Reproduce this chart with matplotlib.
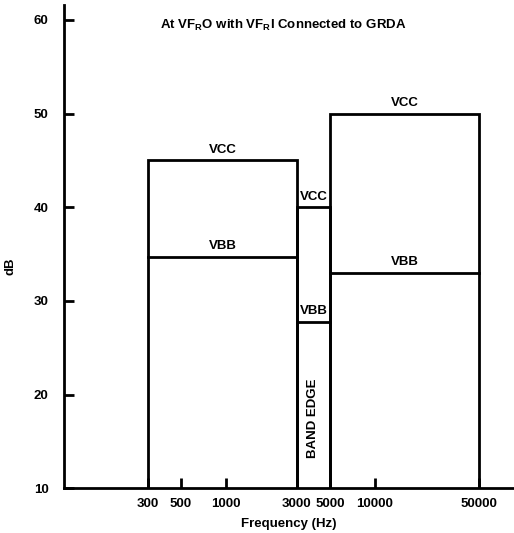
import numpy as np
import matplotlib
matplotlib.use('Agg')
import matplotlib.pyplot as plt

plt.rcParams['font.family'] = ['Liberation Sans', 'DejaVu Sans']
plt.rcParams['font.weight'] = 'bold'
plt.rcParams['mathtext.fontset'] = 'custom'
plt.rcParams['mathtext.bf'] = 'Liberation Sans:bold'
plt.rcParams['mathtext.rm'] = 'Liberation Sans:bold'

# Band edges (Hz) and rejection levels (dB)
band_lo = [300, 3000, 5000]
band_hi = [3000, 5000, 50000]
vcc_db = [45, 40, 50]
vbb_db = [34.7, 27.8, 33]

x_ticks = [300, 500, 1000, 3000, 5000, 10000, 50000]
y_ticks = [10, 20, 30, 40, 50, 60]

fs = 9.5
fig = plt.figure(figsize=(5.14, 5.33), dpi=100)
ax = fig.add_axes([0.1245, 0.0839, 0.8755, 0.9067])

lw = 2.0
for lo, hi, vcc, vbb in zip(band_lo, band_hi, vcc_db, vbb_db):
    # outline of the band: two verticals and the VCC level on top
    ax.plot([lo, lo, hi, hi], [10, vcc, vcc, 10], color='black', lw=lw,
            solid_joinstyle='miter')
    ax.plot([lo, hi], [vbb, vbb], color='black', lw=lw)
    xc = np.sqrt(lo * hi)
    ax.text(xc, vcc + 0.5, 'VCC', ha='center', va='bottom', fontsize=fs,
            fontweight='bold')
    ax.text(xc, vbb + 0.5, 'VBB', ha='center', va='bottom', fontsize=fs,
            fontweight='bold')

ax.text(np.sqrt(3000 * 5000), 17.5, 'BAND EDGE', rotation=90, ha='center',
        va='center', fontsize=fs, fontweight='bold')

ax.set_xscale('log')
ax.set_xlim(82, 86000)
ax.set_ylim(10, 61.6)

ax.set_xticks(x_ticks)
ax.set_xticklabels([str(v) for v in x_ticks])
ax.xaxis.set_minor_locator(matplotlib.ticker.NullLocator())
ax.set_yticks(y_ticks)
ax.set_yticklabels([str(v) for v in y_ticks])

ax.tick_params(axis='both', direction='in', length=7, width=2.0,
               labelsize=fs)
ax.tick_params(axis='x', pad=7)
ax.tick_params(axis='y', pad=11)

for s in ['top', 'right']:
    ax.spines[s].set_visible(False)
for s in ['left', 'bottom']:
    ax.spines[s].set_linewidth(2.0)

ax.set_xlabel('Frequency (Hz)', fontsize=fs, fontweight='bold', labelpad=6)
ax.set_ylabel('dB', fontsize=fs, fontweight='bold')
ax.yaxis.set_label_coords(-0.105, 0.46)

fig.text(0.55, 0.953, r'At VF$_\mathbf{R}$O with VF$_\mathbf{R}$I Connected to GRDA',
         ha='center', va='center', fontsize=fs, fontweight='bold')

fig.savefig('out.png', dpi=100)
